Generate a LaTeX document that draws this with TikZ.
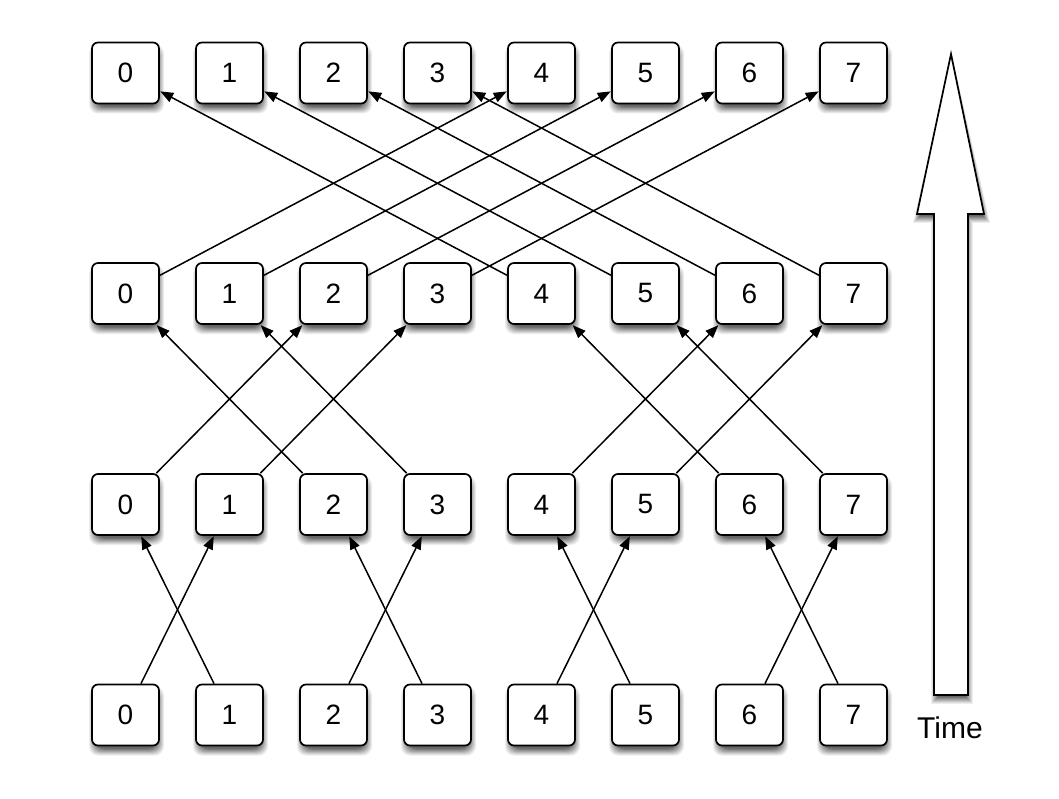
\documentclass[tikz,border=0pt]{standalone}
\usepackage{fontspec}
\setmainfont{Liberation Sans}
\usetikzlibrary{arrows.meta}
\definecolor{sh0}{gray}{0.93}
\definecolor{sh1}{gray}{0.86}
\definecolor{sh2}{gray}{0.78}
\definecolor{sh3}{gray}{0.70}
\definecolor{sh4}{gray}{0.62}
\definecolor{sh5}{gray}{0.54}
\definecolor{sh6}{gray}{0.46}
\definecolor{sh7}{gray}{0.40}
\tikzset{
  cell/.style={draw=black, line width=1.7pt, fill=white, rounded corners=6pt,
    minimum width=67pt, minimum height=61pt, inner sep=0pt,
    font=\fontsize{28}{28}\selectfont},
  link/.style={line width=1.5pt, -{Triangle[length=13pt,width=10pt]}, shorten >=0.5pt},
  bigarrow/.style={draw=black, line width=1.7pt, fill=white, line join=miter}
}
\begin{document}
\begin{tikzpicture}[x=1pt,y=-1pt]
\useasboundingbox (0,0) rectangle (1059,799);
% soft shadows of the cells (grey steps, lightest outermost)
\foreach \yy in {73,293.5,504.5,715}{
  \foreach \i in {0,...,7}{
    \foreach \k in {0,...,7}{
      \fill[sh\k, rounded corners=9pt]
        ({125.5+104*\i+1-37.5+\k},{\yy+6-34.5+\k}) rectangle
        ({125.5+104*\i+1+37.5-\k},{\yy+6+34.5-\k});
    }
  }
}
% soft shadow of the time arrow
\foreach \k in {0,...,7}{
  \fill[sh\k] ({935-4+\k},216) rectangle ({969+4-\k},{700+4-\k});
  \fill[sh\k] (952,{59-4+\k}) -- ({990-\k},{223-\k}) -- ({913+\k},{223-\k}) -- cycle;
}
% rows: a (top) ... d (bottom)
\foreach \r/\yy in {a/73,b/293.5,c/504.5,d/715}{
  \foreach \i in {0,...,7}{
    \node[cell] (\r\i) at ({125.5+104*\i},\yy) {\i};
  }
}
% bottom -> third row
\foreach \s/\t in {0/1,1/0,2/3,3/2,4/5,5/4,6/7,7/6}{
  \draw[link] (d\s) -- (c\t);
}
% third -> second row
\foreach \s/\t in {0/2,1/3,2/0,3/1,4/6,5/7,6/4,7/5}{
  \draw[link] (c\s) -- (b\t);
}
% second -> top row
\foreach \s/\t in {0/4,1/5,2/6,3/7,4/0,5/1,6/2,7/3}{
  \draw[link] (b\s) -- (a\t);
}
% time arrow
\draw[bigarrow] (951,54) -- (984,214) -- (968,214) -- (968,695) -- (934,695) -- (934,214) -- (917,214) -- cycle;
\node[font=\fontsize{30}{30}\selectfont, anchor=base] (time) at (950,738) {Time};
\end{tikzpicture}
\end{document}
